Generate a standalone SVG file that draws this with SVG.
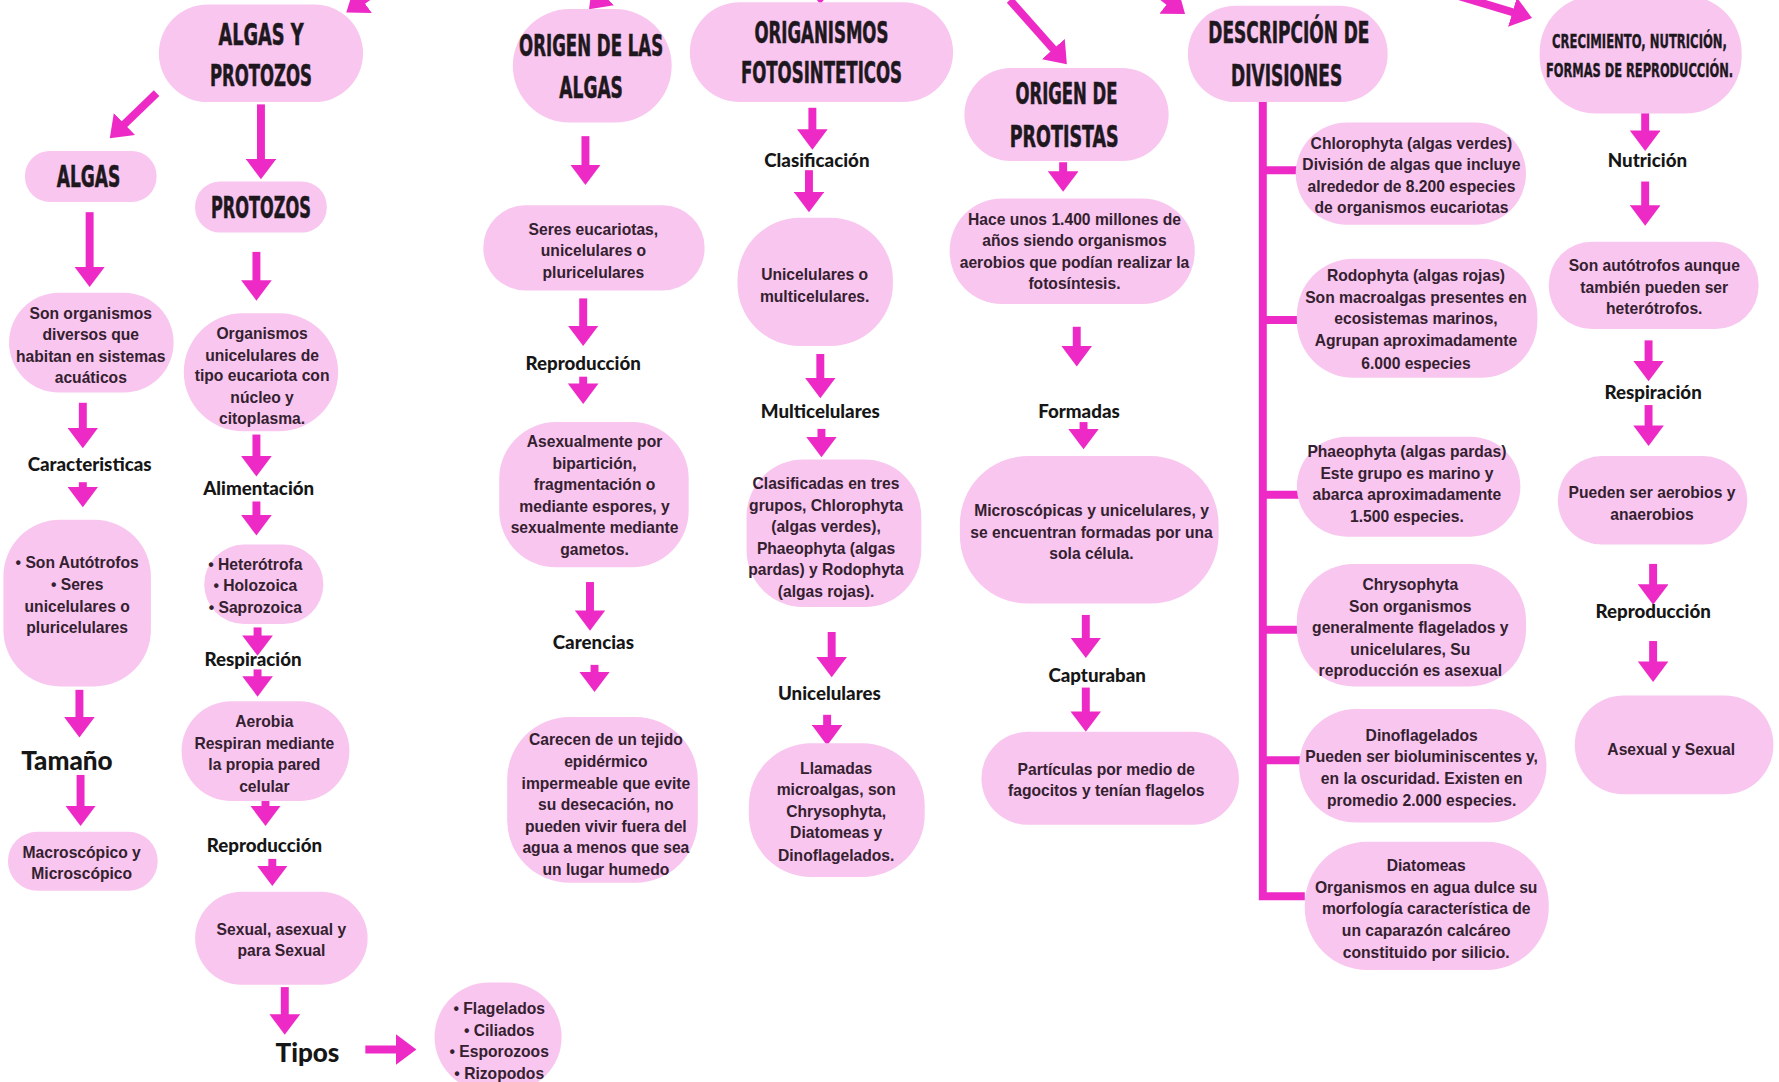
<svg xmlns="http://www.w3.org/2000/svg" width="1779" height="1082" viewBox="0 0 1779 1082">
<style>
.n{fill:#f8c6ef}
.t{font-family:"Liberation Sans",Arial,sans-serif;font-weight:bold;font-size:13.8px;fill:#34202f;text-anchor:middle}
.h{font-family:"DejaVu Sans Condensed","Liberation Sans Narrow","Liberation Sans",sans-serif;font-weight:bold;font-size:26px;fill:#1e181e;stroke:#1e181e;stroke-width:0.5;text-anchor:middle}
.hs{font-size:17px;stroke-width:0.3}
.l{font-family:Lato,"Liberation Sans",sans-serif;font-weight:900;font-size:16.5px;fill:#161616;text-anchor:middle}
.big{font-size:23px}
.a{stroke:#ee2ac6;stroke-width:7;fill:none;marker-end:url(#ah)}
.b{stroke:#ee2ac6;stroke-width:7;fill:none}
</style>
<defs>
<marker id="ah" markerUnits="userSpaceOnUse" markerWidth="19" markerHeight="27" refX="1" refY="13.5" orient="auto">
<path d="M0,0 L18,13.5 L0,27 z" fill="#ee2ac6"/>
</marker>
</defs>
<rect width="1779" height="1082" fill="#ffffff"/>
<g transform="scale(1.1346)">
<g id="connectors">
<line class="a" x1="362" y1="-30" x2="319" y2="1"/>
<line class="a" x1="566" y1="-40" x2="531" y2="-4"/>
<line class="a" x1="723" y1="-50" x2="723" y2="-13"/>
<line class="a" x1="890" y1="0" x2="929" y2="44"/>
<line class="a" x1="1000" y1="-22" x2="1031" y2="2"/>
<line class="a" x1="1284" y1="-4" x2="1334" y2="11"/>
<line class="a" x1="138" y1="82" x2="109" y2="110"/>
<line class="a" x1="230" y1="92" x2="230" y2="141"/>
<line class="a" x1="79" y1="187" x2="79" y2="236"/>
<line class="a" x1="226" y1="222" x2="226" y2="248"/>
<line class="a" x1="73" y1="355" x2="73" y2="378"/>
<line class="a" x1="73" y1="425" x2="73" y2="430"/>
<line class="a" x1="226" y1="383" x2="226" y2="403"/>
<line class="a" x1="226" y1="442" x2="226" y2="455"/>
<line class="a" x1="227" y1="553" x2="227" y2="561"/>
<line class="a" x1="227" y1="590" x2="227" y2="597"/>
<line class="a" x1="70" y1="608" x2="70" y2="633"/>
<line class="a" x1="71" y1="683" x2="71" y2="711"/>
<line class="a" x1="234" y1="706" x2="234" y2="711"/>
<line class="a" x1="240" y1="757" x2="240" y2="764"/>
<line class="a" x1="251" y1="870" x2="251" y2="895"/>
<line class="a" x1="322" y1="925" x2="350" y2="925"/>
<line class="a" x1="516" y1="120" x2="516" y2="146"/>
<line class="a" x1="514" y1="263" x2="514" y2="288"/>
<line class="a" x1="514" y1="332" x2="514" y2="339"/>
<line class="a" x1="520" y1="513" x2="520" y2="539"/>
<line class="a" x1="524" y1="586" x2="524" y2="593"/>
<line class="a" x1="716" y1="95" x2="716" y2="115"/>
<line class="a" x1="713" y1="150" x2="713" y2="170"/>
<line class="a" x1="723" y1="312" x2="723" y2="334"/>
<line class="a" x1="724" y1="378" x2="724" y2="386"/>
<line class="a" x1="733" y1="557" x2="733" y2="580"/>
<line class="a" x1="729" y1="630" x2="729" y2="640"/>
<line class="a" x1="937" y1="143" x2="937" y2="152"/>
<line class="a" x1="949" y1="288" x2="949" y2="306"/>
<line class="a" x1="955" y1="372" x2="955" y2="379"/>
<line class="a" x1="957" y1="542" x2="957" y2="563"/>
<line class="a" x1="957" y1="606" x2="957" y2="628"/>
<line class="a" x1="1450" y1="97" x2="1450" y2="116"/>
<line class="a" x1="1450" y1="160" x2="1450" y2="182"/>
<line class="a" x1="1453" y1="300" x2="1453" y2="319"/>
<line class="a" x1="1453" y1="357" x2="1453" y2="376"/>
<line class="a" x1="1457" y1="497" x2="1457" y2="516"/>
<line class="a" x1="1457" y1="565" x2="1457" y2="584"/>
<path class="b" d="M1113,90 V790 H1150 M1113,150 H1145 M1113,282 H1145 M1113,436 H1145 M1113,555 H1145 M1113,670 H1147"/>
</g>
<g id="n-algas-protozos"><rect class="n" x="140" y="4" width="180" height="86" rx="43"/>
<text class="h" x="230" y="39.5" textLength="75" lengthAdjust="spacingAndGlyphs">ALGAS Y</text>
<text class="h" x="230" y="75.5" textLength="90" lengthAdjust="spacingAndGlyphs">PROTOZOS</text></g>
<g id="n-origen-algas"><rect class="n" x="452" y="8" width="140" height="100" rx="50"/>
<text class="h" x="521" y="49.5" textLength="127" lengthAdjust="spacingAndGlyphs">ORIGEN DE LAS</text>
<text class="h" x="521" y="86.5" textLength="56" lengthAdjust="spacingAndGlyphs">ALGAS</text></g>
<g id="n-fotosinteticos"><rect class="n" x="608" y="2" width="232" height="88" rx="44"/>
<text class="h" x="724" y="37.5" textLength="118" lengthAdjust="spacingAndGlyphs">ORIGANISMOS</text>
<text class="h" x="724" y="73.5" textLength="142" lengthAdjust="spacingAndGlyphs">FOTOSINTETICOS</text></g>
<g id="n-origen-protistas"><rect class="n" x="850" y="60" width="180" height="82" rx="41"/>
<text class="h" x="940" y="91.5" textLength="90" lengthAdjust="spacingAndGlyphs">ORIGEN DE</text>
<text class="h" x="938" y="129.5" textLength="96" lengthAdjust="spacingAndGlyphs">PROTISTAS</text></g>
<g id="n-descripcion"><rect class="n" x="1047" y="5" width="176" height="85" rx="42"/>
<text class="h" x="1136" y="37.5" textLength="142" lengthAdjust="spacingAndGlyphs">DESCRIPCIÓN DE</text>
<text class="h" x="1134" y="75.5" textLength="98" lengthAdjust="spacingAndGlyphs">DIVISIONES</text></g>
<g id="n-crecimiento"><rect class="n" x="1357" y="-4" width="178" height="104" rx="50"/>
<text class="h hs" transform="translate(1445,42) scale(0.6,1)" x="0" y="0" textLength="257" lengthAdjust="spacingAndGlyphs">CRECIMIENTO, NUTRICIÓN,</text>
<text class="h hs" transform="translate(1445,68) scale(0.6,1)" x="0" y="0" textLength="275" lengthAdjust="spacingAndGlyphs">FORMAS DE REPRODUCCIÓN.</text></g>
<g id="n-algas"><rect class="n" x="22" y="133" width="116" height="45" rx="22"/>
<text class="h" x="78" y="164.5" textLength="56" lengthAdjust="spacingAndGlyphs">ALGAS</text></g>
<g id="n-protozos"><rect class="n" x="172" y="160" width="116" height="45" rx="22"/>
<text class="h" x="230" y="192.5" textLength="88" lengthAdjust="spacingAndGlyphs">PROTOZOS</text></g>
<g id="n-son-organismos"><rect class="n" x="8" y="258" width="145" height="88" rx="44"/>
<text class="t"><tspan x="80" y="281">Son organismos</tspan><tspan x="80" y="300">diversos que</tspan><tspan x="80" y="319">habitan en sistemas</tspan><tspan x="80" y="338">acuáticos</tspan></text></g>
<g id="n-organismos-unicelulares"><rect class="n" x="162" y="276" width="136" height="104" rx="52"/>
<text class="t"><tspan x="231" y="299">Organismos</tspan><tspan x="231" y="318">unicelulares de</tspan><tspan x="231" y="336">tipo eucariota con</tspan><tspan x="231" y="355">núcleo y</tspan><tspan x="231" y="374">citoplasma.</tspan></text></g>
<g id="l-caracteristicas"><text class="l" x="79" y="415">Caracteristicas</text></g>
<g id="n-autotrofos"><rect class="n" x="3" y="458" width="130" height="147" rx="50"/>
<text class="t"><tspan x="68" y="501">• Son Autótrofos</tspan><tspan x="68" y="520">• Seres</tspan><tspan x="68" y="539">unicelulares o</tspan><tspan x="68" y="558">pluricelulares</tspan></text></g>
<g id="l-alimentacion"><text class="l" x="228" y="436">Alimentación</text></g>
<g id="n-heterotrofa"><rect class="n" x="180" y="480" width="105" height="70" rx="35"/>
<text class="t"><tspan x="225" y="502">• Heterótrofa</tspan><tspan x="225" y="521">• Holozoica</tspan><tspan x="225" y="540">• Saprozoica</tspan></text></g>
<g id="l-respiracion1"><text class="l" x="223" y="587">Respiración</text></g>
<g id="n-aerobia"><rect class="n" x="160" y="618" width="148" height="88" rx="44"/>
<text class="t"><tspan x="233" y="641">Aerobia</tspan><tspan x="233" y="660">Respiran mediante</tspan><tspan x="233" y="679">la propia pared</tspan><tspan x="233" y="698">celular</tspan></text></g>
<g id="l-tamano"><text class="l big" x="59" y="679">Tamaño</text></g>
<g id="n-macroscopico"><rect class="n" x="7" y="733" width="132" height="52" rx="26"/>
<text class="t"><tspan x="72" y="756">Macroscópico y</tspan><tspan x="72" y="775">Microscópico</tspan></text></g>
<g id="l-reproduccion1"><text class="l" x="233" y="751">Reproducción</text></g>
<g id="n-sexual"><rect class="n" x="172" y="786" width="152" height="82" rx="41"/>
<text class="t"><tspan x="248" y="824">Sexual, asexual y</tspan><tspan x="248" y="843">para Sexual</tspan></text></g>
<g id="l-tipos"><text class="l big" x="271" y="936">Tipos</text></g>
<g id="n-flagelados"><rect class="n" x="383" y="866" width="112" height="96" rx="48"/>
<text class="t"><tspan x="440" y="894">• Flagelados</tspan><tspan x="440" y="913">• Ciliados</tspan><tspan x="440" y="932">• Esporozoos</tspan><tspan x="440" y="951">• Rizopodos</tspan></text></g>
<g id="n-seres-eucariotas"><rect class="n" x="426" y="181" width="195" height="75" rx="37"/>
<text class="t"><tspan x="523" y="207">Seres eucariotas,</tspan><tspan x="523" y="226">unicelulares o</tspan><tspan x="523" y="245">pluricelulares</tspan></text></g>
<g id="l-reproduccion2"><text class="l" x="514" y="326">Reproducción</text></g>
<g id="n-asexualmente"><rect class="n" x="440" y="372" width="167" height="128" rx="50"/>
<text class="t"><tspan x="524" y="394">Asexualmente por</tspan><tspan x="524" y="413">bipartición,</tspan><tspan x="524" y="432">fragmentación o</tspan><tspan x="524" y="451">mediante espores, y</tspan><tspan x="524" y="470">sexualmente mediante</tspan><tspan x="524" y="489">gametos.</tspan></text></g>
<g id="l-carencias"><text class="l" x="523" y="572">Carencias</text></g>
<g id="n-carecen"><rect class="n" x="447" y="632" width="168" height="146" rx="55"/>
<text class="t"><tspan x="534" y="657">Carecen de un tejido</tspan><tspan x="534" y="676">epidérmico</tspan><tspan x="534" y="695">impermeable que evite</tspan><tspan x="534" y="714">su desecación, no</tspan><tspan x="534" y="733">pueden vivir fuera del</tspan><tspan x="534" y="752">agua a menos que sea</tspan><tspan x="534" y="771">un lugar humedo</tspan></text></g>
<g id="l-clasificacion"><text class="l" x="720" y="147">Clasificación</text></g>
<g id="n-unicelulares-multi"><rect class="n" x="650" y="192" width="137" height="113" rx="55"/>
<text class="t"><tspan x="718" y="247">Unicelulares o</tspan><tspan x="718" y="266">multicelulares.</tspan></text></g>
<g id="l-multicelulares"><text class="l" x="723" y="368">Multicelulares</text></g>
<g id="n-clasificadas"><rect class="n" x="658" y="405" width="154" height="130" rx="50"/>
<text class="t"><tspan x="728" y="431">Clasificadas en tres</tspan><tspan x="728" y="450">grupos, Chlorophyta</tspan><tspan x="728" y="469">(algas verdes),</tspan><tspan x="728" y="488">Phaeophyta (algas</tspan><tspan x="728" y="507">pardas) y Rodophyta</tspan><tspan x="728" y="526">(algas rojas).</tspan></text></g>
<g id="l-unicelulares"><text class="l" x="731" y="617">Unicelulares</text></g>
<g id="n-llamadas"><rect class="n" x="660" y="655" width="155" height="118" rx="55"/>
<text class="t"><tspan x="737" y="682">Llamadas</tspan><tspan x="737" y="701">microalgas, son</tspan><tspan x="737" y="720">Chrysophyta,</tspan><tspan x="737" y="739">Diatomeas y</tspan><tspan x="737" y="759">Dinoflagelados.</tspan></text></g>
<g id="n-hace-unos"><rect class="n" x="837" y="175" width="216" height="93" rx="46"/>
<text class="t"><tspan x="947" y="198">Hace unos 1.400 millones de</tspan><tspan x="947" y="217">años siendo organismos</tspan><tspan x="947" y="236">aerobios que podían realizar la</tspan><tspan x="947" y="255">fotosíntesis.</tspan></text></g>
<g id="l-formadas"><text class="l" x="951" y="368">Formadas</text></g>
<g id="n-microscopicas"><rect class="n" x="846" y="402" width="228" height="130" rx="60"/>
<text class="t"><tspan x="962" y="455">Microscópicas y unicelulares, y</tspan><tspan x="962" y="474">se encuentran formadas por una</tspan><tspan x="962" y="493">sola célula.</tspan></text></g>
<g id="l-capturaban"><text class="l" x="967" y="601">Capturaban</text></g>
<g id="n-particulas"><rect class="n" x="865" y="645" width="227" height="82" rx="41"/>
<text class="t"><tspan x="975" y="683">Partículas por medio de</tspan><tspan x="975" y="702">fagocitos y tenían flagelos</tspan></text></g>
<g id="n-chlorophyta"><rect class="n" x="1142" y="108" width="203" height="90" rx="45"/>
<text class="t"><tspan x="1244" y="131">Chlorophyta (algas verdes)</tspan><tspan x="1244" y="150">División de algas que incluye</tspan><tspan x="1244" y="169">alrededor de 8.200 especies</tspan><tspan x="1244" y="188">de organismos eucariotas</tspan></text></g>
<g id="n-rodophyta"><rect class="n" x="1143" y="228" width="212" height="105" rx="50"/>
<text class="t"><tspan x="1248" y="248">Rodophyta (algas rojas)</tspan><tspan x="1248" y="267">Son macroalgas presentes en</tspan><tspan x="1248" y="286">ecosistemas marinos,</tspan><tspan x="1248" y="305">Agrupan aproximadamente</tspan><tspan x="1248" y="325">6.000 especies</tspan></text></g>
<g id="n-phaeophyta"><rect class="n" x="1143" y="385" width="197" height="88" rx="44"/>
<text class="t"><tspan x="1240" y="403">Phaeophyta (algas pardas)</tspan><tspan x="1240" y="422">Este grupo es marino y</tspan><tspan x="1240" y="441">abarca aproximadamente</tspan><tspan x="1240" y="460">1.500 especies.</tspan></text></g>
<g id="n-chrysophyta"><rect class="n" x="1143" y="497" width="202" height="108" rx="50"/>
<text class="t"><tspan x="1243" y="520">Chrysophyta</tspan><tspan x="1243" y="539">Son organismos</tspan><tspan x="1243" y="558">generalmente flagelados y</tspan><tspan x="1243" y="577">unicelulares, Su</tspan><tspan x="1243" y="596">reproducción es asexual</tspan></text></g>
<g id="n-dinoflagelados"><rect class="n" x="1145" y="625" width="218" height="100" rx="50"/>
<text class="t"><tspan x="1253" y="653">Dinoflagelados</tspan><tspan x="1253" y="672">Pueden  ser bioluminiscentes y,</tspan><tspan x="1253" y="691">en la oscuridad. Existen en</tspan><tspan x="1253" y="710">promedio 2.000 especies.</tspan></text></g>
<g id="n-diatomeas"><rect class="n" x="1150" y="742" width="215" height="113" rx="55"/>
<text class="t"><tspan x="1257" y="768">Diatomeas</tspan><tspan x="1257" y="787">Organismos  en agua dulce su</tspan><tspan x="1257" y="806">morfología característica de</tspan><tspan x="1257" y="825">un caparazón calcáreo</tspan><tspan x="1257" y="844">constituido por silicio.</tspan></text></g>
<g id="l-nutricion"><text class="l" x="1452" y="147">Nutrición</text></g>
<g id="n-son-autotrofos"><rect class="n" x="1365" y="213" width="185" height="77" rx="38"/>
<text class="t"><tspan x="1458" y="239">Son autótrofos aunque</tspan><tspan x="1458" y="258">también pueden ser</tspan><tspan x="1458" y="277">heterótrofos.</tspan></text></g>
<g id="l-respiracion2"><text class="l" x="1457" y="352">Respiración</text></g>
<g id="n-pueden-ser"><rect class="n" x="1373" y="402" width="167" height="78" rx="39"/>
<text class="t"><tspan x="1456" y="439">Pueden ser aerobios y</tspan><tspan x="1456" y="458">anaerobios</tspan></text></g>
<g id="l-reproduccion3"><text class="l" x="1457" y="545">Reproducción</text></g>
<g id="n-asexual-sexual"><rect class="n" x="1388" y="613" width="175" height="87" rx="43"/>
<text class="t"><tspan x="1473" y="665">Asexual y Sexual</tspan></text></g>
</g>
</svg>
